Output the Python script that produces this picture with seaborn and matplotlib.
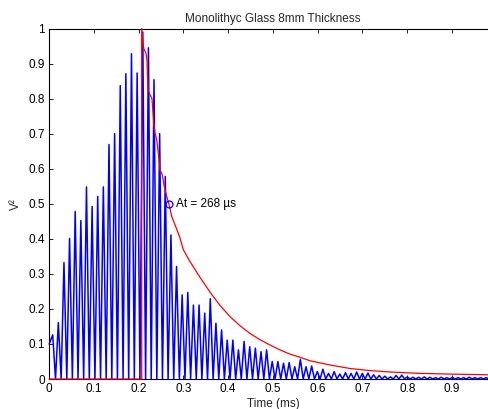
import matplotlib
matplotlib.use("Agg")
import matplotlib.pyplot as plt
import seaborn as sns
import pandas as pd

# Squared envelope signal (V^2) vs time in ms: peak of each cycle, troughs near zero
start_t = [0.0]
start_v = [0.100]
peak_t = [0.0078, 0.0204, 0.0330, 0.0455, 0.0581, 0.0707, 0.0833, 0.0959, 0.1084, 0.1210,
          0.1336, 0.1462, 0.1588, 0.1713, 0.1839, 0.1965, 0.2091, 0.2217, 0.2342, 0.2468,
          0.2594, 0.2720, 0.2846, 0.2971, 0.3097, 0.3223, 0.3349, 0.3475, 0.3600, 0.3726,
          0.3852, 0.3978, 0.4104, 0.4229, 0.4355, 0.4481, 0.4607, 0.4733, 0.4858, 0.4984,
          0.5110, 0.5236, 0.5362, 0.5487, 0.5613, 0.5739, 0.5865, 0.5991, 0.6116, 0.6242,
          0.6368, 0.6494, 0.6620, 0.6745, 0.6871, 0.6997, 0.7123, 0.7249, 0.7374, 0.7500,
          0.7626, 0.7752, 0.7878, 0.8003, 0.8129, 0.8255, 0.8381, 0.8507, 0.8632, 0.8758,
          0.8884, 0.9010, 0.9136, 0.9261, 0.9387, 0.9513, 0.9639, 0.9765, 0.9891]
peak_v = [0.126, 0.161, 0.332, 0.401, 0.478, 0.452, 0.548, 0.492, 0.521, 0.548,
          0.669, 0.700, 0.837, 0.871, 0.928, 0.873, 0.990, 0.945, 0.854, 0.700,
          0.578, 0.411, 0.321, 0.240, 0.247, 0.211, 0.211, 0.188, 0.229, 0.159,
          0.140, 0.111, 0.111, 0.083, 0.107, 0.092, 0.088, 0.078, 0.083, 0.050,
          0.050, 0.045, 0.047, 0.035, 0.056, 0.035, 0.037, 0.021, 0.028, 0.016,
          0.021, 0.014, 0.018, 0.016, 0.020, 0.016, 0.017, 0.012, 0.010, 0.008,
          0.006, 0.010, 0.011, 0.006, 0.005, 0.005, 0.006, 0.005, 0.004, 0.005,
          0.004, 0.005, 0.004, 0.004, 0.005, 0.004, 0.004, 0.004, 0.004]
trough_t = [0.0141, 0.0267, 0.0393, 0.0518, 0.0644, 0.0770, 0.0896, 0.1022, 0.1147, 0.1273,
            0.1399, 0.1525, 0.1651, 0.1776, 0.1902, 0.2028, 0.2154, 0.2280, 0.2405, 0.2531,
            0.2657, 0.2783, 0.2909, 0.3034, 0.3160, 0.3286, 0.3412, 0.3538, 0.3663, 0.3789,
            0.3915, 0.4041, 0.4167, 0.4292, 0.4418, 0.4544, 0.4670, 0.4796, 0.4921, 0.5047,
            0.5173, 0.5299, 0.5425, 0.5550, 0.5676, 0.5802, 0.5928, 0.6054, 0.6179, 0.6305,
            0.6431, 0.6557, 0.6683, 0.6808, 0.6934, 0.7060, 0.7186, 0.7312, 0.7437, 0.7563,
            0.7689, 0.7815, 0.7941, 0.8066, 0.8192, 0.8318, 0.8444, 0.8570, 0.8695, 0.8821,
            0.8947, 0.9073, 0.9199, 0.9324, 0.9450, 0.9576, 0.9702, 0.9828, 0.9954]
trough_v = [0.0] * len(trough_t)

# Energy decay curve (normalised), zero before arrival
decay_t = [0.0, 0.2067, 0.2067, 0.2112, 0.2163, 0.2185, 0.2208, 0.2259, 0.2297, 0.2335,
           0.2364, 0.2402, 0.2438, 0.2476, 0.2527, 0.2572, 0.2626, 0.2680, 0.2737, 0.2811,
           0.2885, 0.2923, 0.2997, 0.3146, 0.3370, 0.3593, 0.3817, 0.4040, 0.4264, 0.4487,
           0.4711, 0.4934, 0.5157, 0.5381, 0.5604, 0.5828, 0.6275, 0.6722, 0.7169, 0.7616,
           0.8286, 0.8956, 0.9828, 1.0]
decay_v = [0.0, 0.0, 1.0, 0.943, 0.929, 0.910, 0.824, 0.810, 0.800, 0.729,
           0.702, 0.683, 0.645, 0.597, 0.583, 0.549, 0.521, 0.497, 0.464, 0.440,
           0.416, 0.402, 0.369, 0.335, 0.290, 0.248, 0.210, 0.178, 0.152, 0.130,
           0.112, 0.097, 0.083, 0.071, 0.062, 0.052, 0.040, 0.030, 0.024, 0.020,
           0.016, 0.014, 0.012, 0.012]

# Arrival-time marker
at_ms = 0.268
at_v = 0.5

title = "Monolithyc Glass 8mm Thickness"
x_ticks = [0, 0.1, 0.2, 0.3, 0.4, 0.5, 0.6, 0.7, 0.8, 0.9]
y_ticks = [0, 0.1, 0.2, 0.3, 0.4, 0.5, 0.6, 0.7, 0.8, 0.9, 1.0]

sig = pd.DataFrame({"t": start_t + peak_t + trough_t,
                    "v": start_v + peak_v + trough_v}).sort_values("t")
env = pd.DataFrame({"t": decay_t, "v": decay_v})

sns.set_style("ticks")
plt.rcParams["font.family"] = ["Liberation Sans", "DejaVu Sans"]
fs = 8.5
plt.rcParams["font.size"] = fs

fig = plt.figure(figsize=(4.89, 4.09), dpi=100)
ax = fig.add_axes([49.2 / 489, 30 / 409, 447.5 / 489, 350.5 / 409])

sns.lineplot(data=sig, x="t", y="v", sort=False, estimator=None, ax=ax,
             color="#0000ff", linewidth=1.1, zorder=3, clip_on=False)
sns.lineplot(data=env, x="t", y="v", sort=False, estimator=None, ax=ax,
             color="#ff0000", linewidth=0.9, zorder=4, clip_on=False)
ax.plot([at_ms], [at_v], marker="o", markersize=5, markerfacecolor="none",
        markeredgecolor="#0000ff", markeredgewidth=0.9, linestyle="none", zorder=5)
ax.text(at_ms + 0.0155, at_v, f"At = {round(at_ms * 1000)} µs",
        fontsize=fs, va="center", ha="left", color="black")

ax.set_xlim(0, 1)
ax.set_ylim(0, 1)
ax.set_xticks(x_ticks)
ax.set_xticklabels([f"{v:g}" for v in x_ticks])
ax.set_yticks(y_ticks)
ax.set_yticklabels([f"{v:g}" for v in y_ticks])
ax.tick_params(direction="in", length=3, width=0.6, top=True, right=False,
               labelsize=fs, pad=3, colors="black")
for side in ["left", "bottom", "top"]:
    ax.spines[side].set_visible(True)
    ax.spines[side].set_linewidth(0.8)
    ax.spines[side].set_color("black")
ax.spines["right"].set_visible(False)

ax.set_title(title, fontsize=fs, pad=5)
ax.set_xlabel("Time (ms)", fontsize=fs, labelpad=2)
ax.set_ylabel("V²", fontsize=fs)
ax.yaxis.set_label_coords(-0.06, 0.5)

fig.savefig("out.png", dpi=100)
